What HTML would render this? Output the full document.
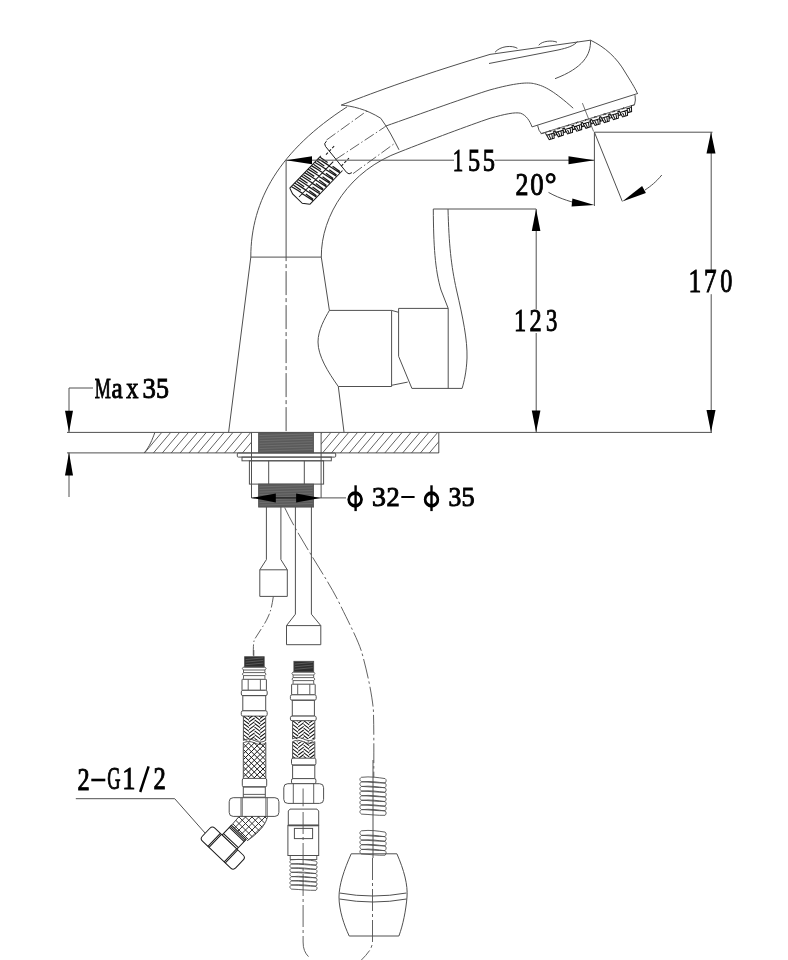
<!DOCTYPE html>
<html><head><meta charset="utf-8"><style>
html,body{margin:0;padding:0;background:#fff;}
svg{display:block;will-change:transform;}
text{font-family:"Liberation Serif",serif;}
</style></head><body>
<svg width="788" height="960" viewBox="0 0 788 960">
<rect width="788" height="960" fill="#fff"/>
<defs><clipPath id="hc"><path d="M154.9,432.4 C152,440 150,446 144.2,452.9 L251.5,452.9 L251.5,432.4 Z M321.1,432.4 L438.8,432.4 L438.8,452.9 L321.1,452.9 Z"/></clipPath></defs>
<path d="M100.0,453 l21,-25 M108.9,453 l21,-25 M117.8,453 l21,-25 M126.7,453 l21,-25 M135.6,453 l21,-25 M144.5,453 l21,-25 M153.4,453 l21,-25 M162.3,453 l21,-25 M171.2,453 l21,-25 M180.1,453 l21,-25 M189.0,453 l21,-25 M197.9,453 l21,-25 M206.8,453 l21,-25 M215.7,453 l21,-25 M224.6,453 l21,-25 M233.5,453 l21,-25 M242.4,453 l21,-25 M251.3,453 l21,-25 M260.2,453 l21,-25 M269.1,453 l21,-25 M278.0,453 l21,-25 M286.9,453 l21,-25 M295.8,453 l21,-25 M304.7,453 l21,-25 M313.6,453 l21,-25 M322.5,453 l21,-25 M331.4,453 l21,-25 M340.3,453 l21,-25 M349.2,453 l21,-25 M358.1,453 l21,-25 M367.0,453 l21,-25 M375.9,453 l21,-25 M384.8,453 l21,-25 M393.7,453 l21,-25 M402.6,453 l21,-25 M411.5,453 l21,-25 M420.4,453 l21,-25 M429.3,453 l21,-25 M438.2,453 l21,-25 M447.1,453 l21,-25 M456.0,453 l21,-25" stroke="#505050" stroke-width="0.9" clip-path="url(#hc)"/>
<line x1="67" y1="432.4" x2="712" y2="432.4" stroke="#505050" stroke-width="1.0" />
<line x1="67" y1="452.9" x2="438.8" y2="452.9" stroke="#505050" stroke-width="1.0" />
<line x1="438.8" y1="432.4" x2="438.8" y2="452.9" stroke="#505050" stroke-width="1.0" />
<path d="M154.9,432.4 C152,440 150,446 144.2,452.9" fill="none" stroke="#505050" stroke-width="1.0" />
<line x1="251.5" y1="432.4" x2="251.5" y2="498" stroke="#505050" stroke-width="1.0" />
<line x1="321.1" y1="432.4" x2="321.1" y2="498" stroke="#505050" stroke-width="1.0" />
<rect x="258.6" y="432.7" width="55" height="20" fill="#5a5a5a" stroke="#505050" stroke-width="0.8"/>
<line x1="259.6" y1="435.5" x2="312.6" y2="433.9" stroke="#7a7a7a" stroke-width="0.6"/>
<line x1="259.6" y1="438.1" x2="312.6" y2="436.5" stroke="#7a7a7a" stroke-width="0.6"/>
<line x1="259.6" y1="440.7" x2="312.6" y2="439.1" stroke="#7a7a7a" stroke-width="0.6"/>
<line x1="259.6" y1="443.3" x2="312.6" y2="441.7" stroke="#7a7a7a" stroke-width="0.6"/>
<line x1="259.6" y1="445.9" x2="312.6" y2="444.3" stroke="#7a7a7a" stroke-width="0.6"/>
<line x1="259.6" y1="448.5" x2="312.6" y2="446.9" stroke="#7a7a7a" stroke-width="0.6"/>
<line x1="259.6" y1="451.1" x2="312.6" y2="449.5" stroke="#7a7a7a" stroke-width="0.6"/>
<rect x="237.3" y="453" width="98.4" height="4.1" rx="1" fill="none" stroke="#505050" stroke-width="1.0" />
<rect x="242" y="457.1" width="89.3" height="3.7" rx="0" fill="none" stroke="#505050" stroke-width="1.0" />
<rect x="249.4" y="460.8" width="74.2" height="23.3" rx="0" fill="none" stroke="#505050" stroke-width="1.0" />
<line x1="268.7" y1="460.8" x2="268.7" y2="484.1" stroke="#505050" stroke-width="1.0" />
<line x1="304.3" y1="460.8" x2="304.3" y2="484.1" stroke="#505050" stroke-width="1.0" />
<rect x="258.6" y="484.1" width="55" height="23" fill="#5a5a5a" stroke="#505050" stroke-width="0.8"/>
<line x1="259.6" y1="486.9" x2="312.6" y2="485.3" stroke="#7a7a7a" stroke-width="0.6"/>
<line x1="259.6" y1="489.5" x2="312.6" y2="487.9" stroke="#7a7a7a" stroke-width="0.6"/>
<line x1="259.6" y1="492.1" x2="312.6" y2="490.5" stroke="#7a7a7a" stroke-width="0.6"/>
<line x1="259.6" y1="494.7" x2="312.6" y2="493.1" stroke="#7a7a7a" stroke-width="0.6"/>
<line x1="259.6" y1="497.3" x2="312.6" y2="495.7" stroke="#7a7a7a" stroke-width="0.6"/>
<line x1="259.6" y1="499.9" x2="312.6" y2="498.3" stroke="#7a7a7a" stroke-width="0.6"/>
<line x1="259.6" y1="502.5" x2="312.6" y2="500.9" stroke="#7a7a7a" stroke-width="0.6"/>
<line x1="259.6" y1="505.1" x2="312.6" y2="503.5" stroke="#7a7a7a" stroke-width="0.6"/>
<line x1="251.5" y1="497.9" x2="346" y2="497.9" stroke="#505050" stroke-width="1.0" />
<line x1="275" y1="497.9" x2="297" y2="497.9" stroke="#222" stroke-width="1.2"/>
<path d="M251.5,497.9 L275.8,493.4 L275.8,502.4 Z" fill="#000" stroke="none"/>
<path d="M320.5,497.9 L296.1,502.4 L296.1,493.4 Z" fill="#000" stroke="none"/>
<path d="M228.6,432.4 L250.8,257.1 C250.8,200 280,150 347,106.9" fill="none" stroke="#505050" stroke-width="1.0" />
<line x1="250.8" y1="257.1" x2="321.3" y2="257.1" stroke="#505050" stroke-width="1.0" />
<path d="M344,432.1 L338.3,386.5 C328,372 318,356 318,342 C318,330 325,318 329.4,310.4 L321.3,257.1 C321,215 350,170 400,151.8 C430,140 470,125 490,118.3 C505,114 515,112 520.5,113.2 C526,115 530,121 532,126.9" fill="none" stroke="#505050" stroke-width="1.0" />
<line x1="286.1" y1="160.2" x2="286.1" y2="257.1" stroke="#505050" stroke-width="1.0" />
<line x1="286.1" y1="257.1" x2="286.1" y2="432" stroke="#505050" stroke-width="1.0" stroke-dasharray="24 3 4 3" stroke-dashoffset="-14"/>
<path d="M329.4,310.4 H391.6 V386.5 H338.3" fill="none" stroke="#505050" stroke-width="1.0" />
<path d="M391.6,310.4 L398.6,312.3 M391.6,385.3 L407.7,382.1" fill="none" stroke="#505050" stroke-width="1.0" />
<path d="M398.6,308.4 H448.2 M398.6,308.4 V356.3 L411.9,388.4 H462.1 M448.2,308.4 V388.4" fill="none" stroke="#505050" stroke-width="1.0" />
<path d="M433.3,209 C433.5,245 435,270 441,290 L448.2,308.4" fill="none" stroke="#505050" stroke-width="1.0" />
<path d="M448,209 C449,245 451,265 456.5,290 C463,318 467.5,340 467,358 C466.5,372 464,382 462.1,388.4" fill="none" stroke="#505050" stroke-width="1.0" />
<path d="M341.2,105.1 C365,96 411,78 490,54.4 L590.5,40.2" fill="none" stroke="#505050" stroke-width="1.0" />
<path d="M489,63.5 L558,50 C567,48 574,46 577.5,41.4" fill="none" stroke="#505050" stroke-width="1.0" />
<path d="M495,52.3 C500,46 512,45 517.4,48.3 M538.7,45.2 C542,41 552,40 557,42.2" fill="none" stroke="#505050" stroke-width="1.0" />
<path d="M590.5,40.2 C605,47 617,58 625,72 C630,80 635,88 637.2,93" fill="none" stroke="#505050" stroke-width="1.0" />
<path d="M590.5,40.2 C591,55 583,68 555,78.7" fill="none" stroke="#505050" stroke-width="1.0" />
<path d="M384.8,126.4 C420,114 470,96 490,89.9 C515,83 528,82 534.7,83.8 C545,86 555,92 573.2,108.2" fill="none" stroke="#505050" stroke-width="1.0" />
<path d="M341.2,105.1 C352,106 366,109 380.8,118.3 C388,128 394,140 399,149.8" fill="none" stroke="#505050" stroke-width="1.0" />
<path d="M532,126.9 L638,93.4" fill="none" stroke="#505050" stroke-width="1.0" />
<path d="M537.6,125.4 Q538.5,131 541.5,133.7 L634.5,104.8 Q636,100 635,95.2" fill="none" stroke="#505050" stroke-width="1.0" />
<g transform="translate(540.7,133.7) rotate(-17.2)" fill="#fff" stroke="#111" stroke-width="1.0"><path d="M9.7,-0.5 L11.4,5.7 L16.6,5.7 L18.3,-0.5 M12.4,1.5 L13.2,5.7 M15.6,1.5 L14.8,5.7 M10.3,1.7 L17.7,1.7"/><path d="M19.3,-0.5 L21.0,5.7 L26.2,5.7 L27.9,-0.5 M22.0,1.5 L22.8,5.7 M25.2,1.5 L24.4,5.7 M19.9,1.7 L27.3,1.7"/><path d="M28.9,-0.5 L30.6,5.7 L35.8,5.7 L37.5,-0.5 M31.6,1.5 L32.4,5.7 M34.8,1.5 L34.0,5.7 M29.5,1.7 L36.9,1.7"/><path d="M38.5,-0.5 L40.2,5.7 L45.4,5.7 L47.1,-0.5 M41.2,1.5 L42.0,5.7 M44.4,1.5 L43.6,5.7 M39.1,1.7 L46.5,1.7"/><path d="M48.1,-0.5 L49.8,5.7 L55.0,5.7 L56.7,-0.5 M50.8,1.5 L51.6,5.7 M54.0,1.5 L53.2,5.7 M48.7,1.7 L56.1,1.7"/><path d="M57.7,-0.5 L59.4,5.7 L64.6,5.7 L66.3,-0.5 M60.4,1.5 L61.2,5.7 M63.6,1.5 L62.8,5.7 M58.3,1.7 L65.7,1.7"/><path d="M67.3,-0.5 L69.0,5.7 L74.2,5.7 L75.9,-0.5 M70.0,1.5 L70.8,5.7 M73.2,1.5 L72.4,5.7 M67.9,1.7 L75.3,1.7"/><path d="M76.9,-0.5 L78.6,5.7 L83.8,5.7 L85.5,-0.5 M79.6,1.5 L80.4,5.7 M82.8,1.5 L82.0,5.7 M77.5,1.7 L84.9,1.7"/><path d="M86.5,-0.5 L88.2,5.7 L93.4,5.7 L95.1,-0.5 M89.2,1.5 L90.0,5.7 M92.4,1.5 L91.6,5.7 M87.1,1.7 L94.5,1.7"/><path d="M4.7,1.0 L6.4,8.2 L11.6,8.2 L13.3,1.0 M7.4,3.0 L8.2,8.2 M10.6,3.0 L9.8,8.2 M5.3,3.2 L12.7,3.2"/><path d="M14.3,1.0 L16.0,8.2 L21.2,8.2 L22.9,1.0 M17.0,3.0 L17.8,8.2 M20.2,3.0 L19.4,8.2 M14.9,3.2 L22.3,3.2"/><path d="M23.9,1.0 L25.6,8.2 L30.8,8.2 L32.5,1.0 M26.6,3.0 L27.4,8.2 M29.8,3.0 L29.0,8.2 M24.5,3.2 L31.9,3.2"/><path d="M33.5,1.0 L35.2,8.2 L40.4,8.2 L42.1,1.0 M36.2,3.0 L37.0,8.2 M39.4,3.0 L38.6,8.2 M34.1,3.2 L41.5,3.2"/><path d="M43.1,1.0 L44.8,8.2 L50.0,8.2 L51.7,1.0 M45.8,3.0 L46.6,8.2 M49.0,3.0 L48.2,8.2 M43.7,3.2 L51.1,3.2"/><path d="M52.7,1.0 L54.4,8.2 L59.6,8.2 L61.3,1.0 M55.4,3.0 L56.2,8.2 M58.6,3.0 L57.8,8.2 M53.3,3.2 L60.7,3.2"/><path d="M62.3,1.0 L64.0,8.2 L69.2,8.2 L70.9,1.0 M65.0,3.0 L65.8,8.2 M68.2,3.0 L67.4,8.2 M62.9,3.2 L70.3,3.2"/><path d="M71.9,1.0 L73.6,8.2 L78.8,8.2 L80.5,1.0 M74.6,3.0 L75.4,8.2 M77.8,3.0 L77.0,8.2 M72.5,3.2 L79.9,3.2"/><path d="M81.5,1.0 L83.2,8.2 L88.4,8.2 L90.1,1.0 M84.2,3.0 L85.0,8.2 M87.4,3.0 L86.6,8.2 M82.1,3.2 L89.5,3.2"/></g>
<path d="M540.7,133.7 L634.5,104.8" fill="none" stroke="#505050" stroke-width="0.9" />
<path d="M582.4,103.1 L593.6,131.5" fill="none" stroke="#505050" stroke-width="0.8" />
<path d="M326.5,140 L367.1,110.8" fill="none" stroke="#505050" stroke-width="0.9" stroke-dasharray="11 2.5 1.5 2.5"/>
<path d="M335.4,159.6 L384.8,127" fill="none" stroke="#505050" stroke-width="0.9" stroke-dasharray="11 2.5 1.5 2.5"/>
<path d="M353.1,173.6 L395,143.1" fill="none" stroke="#505050" stroke-width="0.9" stroke-dasharray="11 2.5 1.5 2.5"/>
<g transform="translate(337,159) rotate(-39)" fill="none" stroke="#1a1a1a" stroke-width="0.9"><path d="M3,-20.5 Q-1,-20.5 -1,-17 L-1,16.5 Q-1,20 3,20"/></g><g transform="translate(299,197) rotate(-46) scale(1.12)" fill="none" stroke="#1a1a1a" stroke-width="0.9"><path d="M2.0,-11.5 C3.0,-8 3.5,-4 4.5,0 M4.2,-11 L5.5,-3 M4.0,0 C5.0,4 5.5,8 6.5,11.5 M6.2,2.5 L7.3,10.5 M6.3,-11.5 C7.3,-8 7.8,-4 8.8,0 M8.5,-11 L9.8,-3 M8.3,0 C9.3,4 9.8,8 10.8,11.5 M10.5,2.5 L11.6,10.5 M10.6,-11.5 C11.6,-8 12.1,-4 13.1,0 M12.8,-11 L14.1,-3 M12.6,0 C13.6,4 14.1,8 15.1,11.5 M14.8,2.5 L15.9,10.5 M14.9,-11.5 C15.9,-8 16.4,-4 17.4,0 M17.1,-11 L18.4,-3 M16.9,0 C17.9,4 18.4,8 19.4,11.5 M19.1,2.5 L20.2,10.5 M19.2,-11.5 C20.2,-8 20.7,-4 21.7,0 M21.4,-11 L22.7,-3 M21.2,0 C22.2,4 22.7,8 23.7,11.5 M23.4,2.5 L24.5,10.5 M23.5,-11.5 C24.5,-8 25.0,-4 26.0,0 M25.7,-11 L27.0,-3 M25.5,0 C26.5,4 27.0,8 28.0,11.5 M27.7,2.5 L28.8,10.5 M27.8,-11.5 C28.8,-8 29.3,-4 30.3,0 M30.0,-11 L31.3,-3 M29.8,0 C30.8,4 31.3,8 32.3,11.5 M32.0,2.5 L33.1,10.5 M32.1,-11.5 C33.1,-8 33.6,-4 34.6,0 M34.3,-11 L35.6,-3 M34.1,0 C35.1,4 35.6,8 36.6,11.5 M36.3,2.5 L37.4,10.5 M36.4,-11.5 C37.4,-8 37.9,-4 38.9,0 M38.6,-11 L39.9,-3 M38.4,0 C39.4,4 39.9,8 40.9,11.5 M40.6,2.5 L41.7,10.5" stroke-width="1.1"/><path d="M0,-11.5 L40,-11.5 M2,11.5 L44,11.5 M0,-11.5 L-2,-6 L-2,6 L2,11.5 M0,0 L44,0" stroke-width="0.9"/><path d="M44,-9 L56,-9 M46,8 L56,8" stroke-width="0.9" stroke-dasharray="2.5 1.5"/></g>
<line x1="286.1" y1="160.2" x2="454" y2="160.2" stroke="#505050" stroke-width="1.0" />
<line x1="494.5" y1="160.2" x2="594.4" y2="160.2" stroke="#505050" stroke-width="1.0" />
<path d="M286.1,160.2 L312.0,156.2 L312.0,164.2 Z" fill="#000" stroke="none"/>
<path d="M594.4,160.2 L568.5,164.2 L568.5,156.2 Z" fill="#000" stroke="none"/>
<text transform="translate(452.63,170.93) scale(0.646,1)" font-family="Liberation Serif" font-size="32.40" fill="#000" stroke="#000" stroke-width="0.95">1</text>
<text transform="translate(467.97,170.93) scale(0.749,1)" font-family="Liberation Serif" font-size="32.40" fill="#000" stroke="#000" stroke-width="0.95">5</text>
<text transform="translate(482.75,170.93) scale(0.756,1)" font-family="Liberation Serif" font-size="32.40" fill="#000" stroke="#000" stroke-width="0.95">5</text>
<line x1="594.4" y1="132.2" x2="594.4" y2="206" stroke="#505050" stroke-width="1.0" />
<line x1="594.4" y1="132.2" x2="622.3" y2="201.4" stroke="#505050" stroke-width="1.0" />
<path d="M548.5,192.4 C560,199 575,203 580,204" fill="none" stroke="#505050" stroke-width="1.0" />
<path d="M594.4,205.0 L571.6,206.5 L572.4,198.5 Z" fill="#000" stroke="none"/>
<path d="M661.8,175 C656,182 651,186 645,190" fill="none" stroke="#505050" stroke-width="1.0" />
<path d="M622.3,201.4 L642.1,186.0 L645.9,193.0 Z" fill="#000" stroke="none"/>
<text transform="translate(515.54,194.83) scale(0.799,1)" font-family="Liberation Serif" font-size="32.40" fill="#000" stroke="#000" stroke-width="0.95">2</text>
<text transform="translate(530.26,194.83) scale(0.828,1)" font-family="Liberation Serif" font-size="32.40" fill="#000" stroke="#000" stroke-width="0.95">0</text>
<text transform="translate(544.65,194.83) scale(0.915,1)" font-family="Liberation Serif" font-size="32.40" fill="#000" stroke="#000" stroke-width="0.95">°</text>
<line x1="594.4" y1="132.2" x2="712.5" y2="132.2" stroke="#505050" stroke-width="1.0" />
<line x1="433.3" y1="209" x2="536.1" y2="209" stroke="#505050" stroke-width="1.0" />
<line x1="536.2" y1="209" x2="536.2" y2="309.5" stroke="#505050" stroke-width="1.0" />
<line x1="536.2" y1="333" x2="536.2" y2="432.3" stroke="#505050" stroke-width="1.0" />
<path d="M536.1,209.0 L540.4,231.0 L531.8,231.0 Z" fill="#000" stroke="none"/>
<path d="M536.1,432.3 L531.8,410.5 L540.4,410.5 Z" fill="#000" stroke="none"/>
<text transform="translate(514.03,331.32) scale(0.752,1)" font-family="Liberation Serif" font-size="32.40" fill="#000" stroke="#000" stroke-width="0.95">1</text>
<text transform="translate(529.60,331.32) scale(0.752,1)" font-family="Liberation Serif" font-size="32.40" fill="#000" stroke="#000" stroke-width="0.95">2</text>
<text transform="translate(546.09,331.32) scale(0.700,1)" font-family="Liberation Serif" font-size="32.40" fill="#000" stroke="#000" stroke-width="0.95">3</text>
<line x1="711.2" y1="132.2" x2="711.2" y2="270.2" stroke="#505050" stroke-width="1.0" />
<line x1="711.2" y1="294.2" x2="711.2" y2="432.2" stroke="#505050" stroke-width="1.0" />
<path d="M711.0,132.2 L715.5,153.4 L706.5,153.4 Z" fill="#000" stroke="none"/>
<path d="M711.0,432.2 L706.5,410.0 L715.5,410.0 Z" fill="#000" stroke="none"/>
<text transform="translate(688.53,292.42) scale(0.773,1)" font-family="Liberation Serif" font-size="33.00" fill="#000" stroke="#000" stroke-width="0.95">1</text>
<text transform="translate(704.02,292.42) scale(0.761,1)" font-family="Liberation Serif" font-size="33.00" fill="#000" stroke="#000" stroke-width="0.95">7</text>
<text transform="translate(720.35,292.42) scale(0.734,1)" font-family="Liberation Serif" font-size="33.00" fill="#000" stroke="#000" stroke-width="0.95">0</text>
<path d="M93,388 H69 V432.3" fill="none" stroke="#505050" stroke-width="1.0" />
<path d="M69.0,432.3 L65.0,410.8 L73.0,410.8 Z" fill="#000" stroke="none"/>
<line x1="69" y1="452.6" x2="69" y2="497" stroke="#505050" stroke-width="1.0" />
<path d="M69.0,452.6 L73.0,475.5 L65.0,475.5 Z" fill="#000" stroke="none"/>
<text transform="translate(94.65,397.52) scale(0.599,1)" font-family="Liberation Serif" font-size="30.27" fill="#000" stroke="#000" stroke-width="0.95">M</text>
<text transform="translate(111.39,397.52) scale(0.834,1)" font-family="Liberation Serif" font-size="30.27" fill="#000" stroke="#000" stroke-width="0.95">a</text>
<text transform="translate(126.36,397.52) scale(0.805,1)" font-family="Liberation Serif" font-size="30.27" fill="#000" stroke="#000" stroke-width="0.95">x</text>
<text transform="translate(142.39,397.52) scale(0.886,1)" font-family="Liberation Serif" font-size="30.27" fill="#000" stroke="#000" stroke-width="0.95">3</text>
<text transform="translate(155.97,397.52) scale(0.859,1)" font-family="Liberation Serif" font-size="30.27" fill="#000" stroke="#000" stroke-width="0.95">5</text>
<ellipse cx="355.1" cy="499.5" rx="6.6" ry="7.1" fill="none" stroke="#000" stroke-width="2.2"/>
<ellipse cx="355.1" cy="499.5" rx="6.4" ry="5.8" fill="none" stroke="#000" stroke-width="2.4" transform="translate(355.1,0) scale(0.97,1) translate(-355.1,0)"/>
<line x1="355.6" y1="485.3" x2="355.6" y2="511.1" stroke="#000" stroke-width="2.4"/>
<text transform="translate(372.04,506.12) scale(1.038,1)" font-family="Liberation Serif" font-size="26.78" fill="#000" stroke="#000" stroke-width="0.95">3</text>
<text transform="translate(386.41,506.12) scale(0.985,1)" font-family="Liberation Serif" font-size="26.78" fill="#000" stroke="#000" stroke-width="0.95">2</text>
<rect x="401.3" y="496" width="13.3" height="2" fill="#000"/>
<ellipse cx="431.5" cy="499.5" rx="6.6" ry="7.1" fill="none" stroke="#000" stroke-width="2.2"/>
<ellipse cx="431.5" cy="499.5" rx="6.4" ry="5.8" fill="none" stroke="#000" stroke-width="2.4" transform="translate(431.5,0) scale(0.97,1) translate(-431.5,0)"/>
<line x1="431.5" y1="485.3" x2="431.5" y2="511.1" stroke="#000" stroke-width="2.4"/>
<text transform="translate(448.55,506.12) scale(0.956,1)" font-family="Liberation Serif" font-size="26.78" fill="#000" stroke="#000" stroke-width="0.95">3</text>
<text transform="translate(461.55,506.12) scale(0.980,1)" font-family="Liberation Serif" font-size="26.78" fill="#000" stroke="#000" stroke-width="0.95">5</text>
<path d="M75.8,798.7 H174.7 L205.2,833.2" fill="none" stroke="#505050" stroke-width="1.0" />
<text transform="translate(77.40,789.52) scale(0.789,1)" font-family="Liberation Serif" font-size="30.88" fill="#000" stroke="#000" stroke-width="0.95">2</text>
<rect x="91.3" y="778.7" width="14" height="2.6" fill="#000"/>
<text transform="translate(107.32,789.42) scale(0.590,1)" font-family="Liberation Serif" font-size="31.18" fill="#000" stroke="#000" stroke-width="0.95">G</text>
<text transform="translate(122.16,789.42) scale(0.845,1)" font-family="Liberation Serif" font-size="31.18" fill="#000" stroke="#000" stroke-width="0.95">1</text>
<text transform="translate(153.59,789.42) scale(0.790,1)" font-family="Liberation Serif" font-size="31.18" fill="#000" stroke="#000" stroke-width="0.95">2</text>
<line x1="148.6" y1="766.3" x2="140.2" y2="792" stroke="#000" stroke-width="2.5"/>
<path d="M266.4,507 V559.6 L259.8,569.8 V596.4 H287.3 V569.8 L280.9,559.6 V507 M259.8,569.8 H287.3" fill="none" stroke="#505050" stroke-width="1.0" />
<path d="M295.4,507 V614.2 L286.5,625.6 V644.7 H320.8 V625.6 L311.4,614.2 V507 M286.5,625.6 H320.8" fill="none" stroke="#505050" stroke-width="1.0" />
<path d="M273.3,596.7 C272,605 271,611 268,617 C265,624 259,632 254.2,640 C253.3,644 253.3,648 253.3,656" fill="none" stroke="#505050" stroke-width="0.9" stroke-dasharray="11 2.5 1.5 2.5"/>
<path d="M284.7,507.6 C300,540 325,575 337.8,600 C350,625 358,640 361.9,652.7 C368,675 372,695 373.4,710 C374,730 373.8,750 373.8,777.6" fill="none" stroke="#505050" stroke-width="0.9" stroke-dasharray="20 3 2.5 3"/>
<line x1="253.8" y1="650" x2="253.8" y2="656.4" stroke="#505050" stroke-width="0.9" />
<rect x="244.6" y="656.7" width="19.6" height="10.4" fill="#2e2e2e" stroke="#505050" stroke-width="0.8"/>
<line x1="245.6" y1="659.5" x2="263.2" y2="657.9" stroke="#777" stroke-width="0.6"/>
<line x1="245.6" y1="662.1" x2="263.2" y2="660.5" stroke="#777" stroke-width="0.6"/>
<line x1="245.6" y1="664.7" x2="263.2" y2="663.1" stroke="#777" stroke-width="0.6"/>
<path d="M243.5,667 H264.9 Q267.2,668.5 264.9,670 H243.5 Q241.2,668.5 243.5,667 Z" fill="none" stroke="#505050" stroke-width="0.9" />
<path d="M243.5,672.6 H264.9 Q267.2,674.1 264.9,675.6 H243.5 Q241.2,674.1 243.5,672.6 Z" fill="none" stroke="#505050" stroke-width="0.9" />
<path d="M243.5,670 V672.6 M264.9,670 V672.6 M243.5,675.6 V678.8 M264.9,675.6 V678.8" fill="none" stroke="#505050" stroke-width="0.9" />
<rect x="242" y="679.3" width="24.4" height="11" rx="0.5" fill="#fff" stroke="#505050" stroke-width="1.0"/>
<line x1="248.2" y1="679.3" x2="248.2" y2="690.3" stroke="#505050" stroke-width="0.9" />
<line x1="260.4" y1="679.3" x2="260.4" y2="690.3" stroke="#505050" stroke-width="0.9" />
<rect x="241.3" y="690.3" width="25.9" height="5.3" rx="1.6" fill="#fff" stroke="#505050" stroke-width="1.0"/>
<rect x="242.8" y="695.6" width="22.9" height="15.2" rx="0" fill="none" stroke="#505050" stroke-width="1.0" />
<rect x="241.3" y="710.8" width="25.9" height="5.3" rx="1.6" fill="#fff" stroke="#505050" stroke-width="1.0"/>
<clipPath id="cl1"><rect x="243.4" y="716.1" width="22.3" height="24.4"/></clipPath>
<path d="M243.4,708.7 l5.6,4.2 M243.4,712.4 l5.6,4.2 M243.4,716.1 l5.6,4.2 M243.4,719.8 l5.6,4.2 M243.4,723.5 l5.6,4.2 M243.4,727.2 l5.6,4.2 M243.4,730.9 l5.6,4.2 M243.4,734.6 l5.6,4.2 M243.4,738.3 l5.6,4.2 M243.4,742.0 l5.6,4.2 M249.0,714.8 l5.6,-4.2 M249.0,718.5 l5.6,-4.2 M249.0,722.2 l5.6,-4.2 M249.0,725.9 l5.6,-4.2 M249.0,729.6 l5.6,-4.2 M249.0,733.3 l5.6,-4.2 M249.0,737.0 l5.6,-4.2 M249.0,740.7 l5.6,-4.2 M249.0,744.4 l5.6,-4.2 M249.0,748.1 l5.6,-4.2 M254.6,708.7 l5.6,4.2 M254.6,712.4 l5.6,4.2 M254.6,716.1 l5.6,4.2 M254.6,719.8 l5.6,4.2 M254.6,723.5 l5.6,4.2 M254.6,727.2 l5.6,4.2 M254.6,730.9 l5.6,4.2 M254.6,734.6 l5.6,4.2 M254.6,738.3 l5.6,4.2 M254.6,742.0 l5.6,4.2 M260.1,714.8 l5.6,-4.2 M260.1,718.5 l5.6,-4.2 M260.1,722.2 l5.6,-4.2 M260.1,725.9 l5.6,-4.2 M260.1,729.6 l5.6,-4.2 M260.1,733.3 l5.6,-4.2 M260.1,737.0 l5.6,-4.2 M260.1,740.7 l5.6,-4.2 M260.1,744.4 l5.6,-4.2 M260.1,748.1 l5.6,-4.2" fill="none" stroke="#111" stroke-width="1.05" clip-path="url(#cl1)"/>
<path d="M243.4,716.1 V740.5 M265.7,716.1 V740.5" fill="none" stroke="#505050" stroke-width="1.0" />
<path d="M243.4,740.5 C247,738.5 250,738.5 254.5,740.5 C259,742.5 262,742.5 265.7,740.5" fill="none" stroke="#505050" stroke-width="1.0" />
<clipPath id="cl2"><rect x="243.3" y="742.3" width="22.5" height="36.1"/></clipPath>
<path d="M207.2,742.3 l36.1,36.1 M207.2,778.4 l36.1,-36.1 M213.0,742.3 l36.1,36.1 M213.0,778.4 l36.1,-36.1 M218.8,742.3 l36.1,36.1 M218.8,778.4 l36.1,-36.1 M224.6,742.3 l36.1,36.1 M224.6,778.4 l36.1,-36.1 M230.4,742.3 l36.1,36.1 M230.4,778.4 l36.1,-36.1 M236.2,742.3 l36.1,36.1 M236.2,778.4 l36.1,-36.1 M242.0,742.3 l36.1,36.1 M242.0,778.4 l36.1,-36.1 M247.8,742.3 l36.1,36.1 M247.8,778.4 l36.1,-36.1 M253.6,742.3 l36.1,36.1 M253.6,778.4 l36.1,-36.1 M259.4,742.3 l36.1,36.1 M259.4,778.4 l36.1,-36.1 M265.2,742.3 l36.1,36.1 M265.2,778.4 l36.1,-36.1 M271.0,742.3 l36.1,36.1 M271.0,778.4 l36.1,-36.1 M276.8,742.3 l36.1,36.1 M276.8,778.4 l36.1,-36.1 M282.6,742.3 l36.1,36.1 M282.6,778.4 l36.1,-36.1 M288.4,742.3 l36.1,36.1 M288.4,778.4 l36.1,-36.1 M294.2,742.3 l36.1,36.1 M294.2,778.4 l36.1,-36.1 M300.0,742.3 l36.1,36.1 M300.0,778.4 l36.1,-36.1" fill="none" stroke="#111" stroke-width="0.95" clip-path="url(#cl2)"/>
<path d="M243.3,742.3 V778.4 M265.8,742.3 V778.4" fill="none" stroke="#505050" stroke-width="1.0" />
<path d="M243.3,743 C247,741 250,741 254.5,743 C259,745 262,745 265.8,743" fill="none" stroke="#505050" stroke-width="1.0" />
<rect x="242.3" y="778.4" width="24.4" height="8.5" rx="1.6" fill="#fff" stroke="#505050" stroke-width="1.0"/>
<rect x="243.3" y="786.9" width="22" height="10.3" rx="0" fill="none" stroke="#505050" stroke-width="1.0" />
<line x1="243.3" y1="794.4" x2="265.3" y2="794.4" stroke="#505050" stroke-width="0.9" />
<rect x="229.2" y="797.7" width="49.7" height="18.7" rx="4" fill="#fff" stroke="#505050" stroke-width="1.0"/>
<line x1="241" y1="797.7" x2="241" y2="816.4000000000001" stroke="#505050" stroke-width="0.9" />
<line x1="267.2" y1="797.7" x2="267.2" y2="816.4000000000001" stroke="#505050" stroke-width="0.9" />
<line x1="242.3" y1="797.7" x2="242.3" y2="816.4" stroke="#505050" stroke-width="0.8" />
<line x1="265.8" y1="797.7" x2="265.8" y2="816.4" stroke="#505050" stroke-width="0.8" />
<clipPath id="cl3"><path d="M230,827.1 L239.1,816.4 L267.7,816.4 C266,822 263,830 247.1,840.8 Z"/></clipPath>
<path d="M180,810 l40,40 M180,850 l40,-40 M186.5,810 l40,40 M186.5,850 l40,-40 M193.0,810 l40,40 M193.0,850 l40,-40 M199.5,810 l40,40 M199.5,850 l40,-40 M206.0,810 l40,40 M206.0,850 l40,-40 M212.5,810 l40,40 M212.5,850 l40,-40 M219.0,810 l40,40 M219.0,850 l40,-40 M225.5,810 l40,40 M225.5,850 l40,-40 M232.0,810 l40,40 M232.0,850 l40,-40 M238.5,810 l40,40 M238.5,850 l40,-40 M245.0,810 l40,40 M245.0,850 l40,-40 M251.5,810 l40,40 M251.5,850 l40,-40 M258.0,810 l40,40 M258.0,850 l40,-40 M264.5,810 l40,40 M264.5,850 l40,-40 M271.0,810 l40,40 M271.0,850 l40,-40 M277.5,810 l40,40 M277.5,850 l40,-40" fill="none" stroke="#222" stroke-width="0.9" clip-path="url(#cl3)"/>
<path d="M230,827.1 L239.1,816.4 M267.7,816.4 C266,822 263,830 247.1,840.8" fill="none" stroke="#505050" stroke-width="1.0" />
<g transform="translate(222.8,848.1) rotate(-46.5)" fill="#fff" stroke="#1a1a1a" stroke-width="1.0"><rect x="9" y="-9.5" width="13.5" height="20.5"/><line x1="11" y1="-9.5" x2="11" y2="11"/><line x1="19.5" y1="-9.5" x2="19.5" y2="11"/><line x1="21" y1="-9.5" x2="21" y2="11"/><rect x="-9" y="-23" width="18" height="46" rx="3.5"/><line x1="-9" y1="-12" x2="9" y2="-12"/><line x1="-9" y1="-10.5" x2="9" y2="-10.5"/><line x1="-9" y1="10.5" x2="9" y2="10.5"/><line x1="-9" y1="12" x2="9" y2="12"/></g>
<rect x="293.9" y="661.3" width="19.8" height="10.7" fill="#2e2e2e" stroke="#505050" stroke-width="0.8"/>
<line x1="294.9" y1="664.1" x2="312.7" y2="662.5" stroke="#777" stroke-width="0.6"/>
<line x1="294.9" y1="666.7" x2="312.7" y2="665.1" stroke="#777" stroke-width="0.6"/>
<line x1="294.9" y1="669.3" x2="312.7" y2="667.7" stroke="#777" stroke-width="0.6"/>
<path d="M293.1,672 H313.70000000000005 Q316.00000000000006,673.5 313.70000000000005,675 H293.1 Q290.8,673.5 293.1,672 Z" fill="none" stroke="#505050" stroke-width="0.9" />
<path d="M293.1,677.6 H313.70000000000005 Q316.00000000000006,679.1 313.70000000000005,680.6 H293.1 Q290.8,679.1 293.1,677.6 Z" fill="none" stroke="#505050" stroke-width="0.9" />
<path d="M293.1,675 V677.6 M313.70000000000005,675 V677.6 M293.1,680.6 V683.8 M313.70000000000005,680.6 V683.8" fill="none" stroke="#505050" stroke-width="0.9" />
<rect x="291.6" y="684.2" width="23.6" height="10.6" rx="0.5" fill="#fff" stroke="#505050" stroke-width="1.0"/>
<line x1="297.7" y1="684.2" x2="297.7" y2="694.8000000000001" stroke="#505050" stroke-width="0.9" />
<line x1="309.8" y1="684.2" x2="309.8" y2="694.8000000000001" stroke="#505050" stroke-width="0.9" />
<rect x="290.4" y="694.8" width="25.8" height="5.4" rx="1.6" fill="#fff" stroke="#505050" stroke-width="1.0"/>
<rect x="292.3" y="700.2" width="22.1" height="15.9" rx="0" fill="none" stroke="#505050" stroke-width="1.0" />
<rect x="290.4" y="716.1" width="25.8" height="4.6" rx="1.6" fill="#fff" stroke="#505050" stroke-width="1.0"/>
<clipPath id="cl4"><rect x="292.6" y="720.7" width="22.2" height="18.3"/></clipPath>
<path d="M292.6,713.3 l5.5,4.2 M292.6,717.0 l5.5,4.2 M292.6,720.7 l5.5,4.2 M292.6,724.4 l5.5,4.2 M292.6,728.1 l5.5,4.2 M292.6,731.8 l5.5,4.2 M292.6,735.5 l5.5,4.2 M292.6,739.2 l5.5,4.2 M298.2,719.4 l5.5,-4.2 M298.2,723.1 l5.5,-4.2 M298.2,726.8 l5.5,-4.2 M298.2,730.5 l5.5,-4.2 M298.2,734.2 l5.5,-4.2 M298.2,737.9 l5.5,-4.2 M298.2,741.6 l5.5,-4.2 M298.2,745.3 l5.5,-4.2 M303.7,713.3 l5.5,4.2 M303.7,717.0 l5.5,4.2 M303.7,720.7 l5.5,4.2 M303.7,724.4 l5.5,4.2 M303.7,728.1 l5.5,4.2 M303.7,731.8 l5.5,4.2 M303.7,735.5 l5.5,4.2 M303.7,739.2 l5.5,4.2 M309.2,719.4 l5.5,-4.2 M309.2,723.1 l5.5,-4.2 M309.2,726.8 l5.5,-4.2 M309.2,730.5 l5.5,-4.2 M309.2,734.2 l5.5,-4.2 M309.2,737.9 l5.5,-4.2 M309.2,741.6 l5.5,-4.2 M309.2,745.3 l5.5,-4.2" fill="none" stroke="#111" stroke-width="1.05" clip-path="url(#cl4)"/>
<path d="M292.6,720.7 V739.0 M314.8,720.7 V739.0" fill="none" stroke="#505050" stroke-width="1.0" />
<path d="M292.6,739 C296,737 299,737 303.7,739 C308,741 311,741 314.8,739" fill="none" stroke="#505050" stroke-width="1.0" />
<clipPath id="cl5"><rect x="292.6" y="741.5" width="22.2" height="16.7"/></clipPath>
<path d="M292.6,734.1 l5.5,4.2 M292.6,737.8 l5.5,4.2 M292.6,741.5 l5.5,4.2 M292.6,745.2 l5.5,4.2 M292.6,748.9 l5.5,4.2 M292.6,752.6 l5.5,4.2 M292.6,756.3 l5.5,4.2 M292.6,760.0 l5.5,4.2 M298.2,740.2 l5.5,-4.2 M298.2,743.9 l5.5,-4.2 M298.2,747.6 l5.5,-4.2 M298.2,751.3 l5.5,-4.2 M298.2,755.0 l5.5,-4.2 M298.2,758.7 l5.5,-4.2 M298.2,762.4 l5.5,-4.2 M298.2,766.1 l5.5,-4.2 M303.7,734.1 l5.5,4.2 M303.7,737.8 l5.5,4.2 M303.7,741.5 l5.5,4.2 M303.7,745.2 l5.5,4.2 M303.7,748.9 l5.5,4.2 M303.7,752.6 l5.5,4.2 M303.7,756.3 l5.5,4.2 M303.7,760.0 l5.5,4.2 M309.2,740.2 l5.5,-4.2 M309.2,743.9 l5.5,-4.2 M309.2,747.6 l5.5,-4.2 M309.2,751.3 l5.5,-4.2 M309.2,755.0 l5.5,-4.2 M309.2,758.7 l5.5,-4.2 M309.2,762.4 l5.5,-4.2 M309.2,766.1 l5.5,-4.2" fill="none" stroke="#111" stroke-width="1.05" clip-path="url(#cl5)"/>
<path d="M292.6,741.5 V758.2 M314.8,741.5 V758.2" fill="none" stroke="#505050" stroke-width="1.0" />
<path d="M292.6,741.8 C296,739.8 299,739.8 303.7,741.8 C308,743.8 311,743.8 314.8,741.8" fill="none" stroke="#505050" stroke-width="1.0" />
<rect x="291.5" y="758.2" width="24.4" height="6.9" rx="1.6" fill="#fff" stroke="#505050" stroke-width="1.0"/>
<rect x="292.6" y="765.1" width="22.2" height="13.5" rx="0" fill="none" stroke="#505050" stroke-width="1.0" />
<rect x="291.5" y="778.6" width="24.4" height="5.1" rx="1.6" fill="#fff" stroke="#505050" stroke-width="1.0"/>
<rect x="283.8" y="783.7" width="39.8" height="19.7" rx="4" fill="#fff" stroke="#505050" stroke-width="1.0"/>
<line x1="293.3" y1="783.7" x2="293.3" y2="803.4000000000001" stroke="#505050" stroke-width="0.9" />
<line x1="313.7" y1="783.7" x2="313.7" y2="803.4000000000001" stroke="#505050" stroke-width="0.9" />
<line x1="303.1" y1="788.5" x2="303.1" y2="806.3" stroke="#505050" stroke-width="0.9" />
<path d="M303.1,812 V942 C303,950 306,955 310.6,958.4" fill="none" stroke="#505050" stroke-width="0.9" stroke-dasharray="22 3 3 3"/>
<path d="M288.3,825.4 V811 L290,809.1 H317 L318.7,811 V825.4" fill="none" stroke="#505050" stroke-width="1.0" />
<line x1="288.3" y1="825.4" x2="318.7" y2="825.4" stroke="#505050" stroke-width="1.8" />
<rect x="287.9" y="825.4" width="30.8" height="30.1" rx="0" fill="none" stroke="#505050" stroke-width="1.0" />
<rect x="294.4" y="828.4" width="18.2" height="10.2" rx="0" fill="none" stroke="#505050" stroke-width="1.0" />
<rect x="290.2" y="855.5" width="26.6" height="4" rx="0" fill="none" stroke="#505050" stroke-width="0.9" />
<path d="M291.4,859.8 C300.8,858.7 308.8,860.1 316.0,861.1 C317.4,862.1 317.4,863.5 316.0,865.0 M291.4,859.8 C289.4,861.0 289.4,862.5 291.4,863.8 C300.8,864.2 308.8,865.3 316.0,865.0 M291.4,864.0 C300.8,862.9 308.8,864.3 316.0,865.3 C317.4,866.3 317.4,867.7 316.0,869.2 M291.4,864.0 C289.4,865.2 289.4,866.7 291.4,868.0 C300.8,868.4 308.8,869.5 316.0,869.2 M291.4,868.2 C300.8,867.1 308.8,868.5 316.0,869.5 C317.4,870.5 317.4,871.9 316.0,873.4 M291.4,868.2 C289.4,869.4 289.4,870.9 291.4,872.2 C300.8,872.6 308.8,873.7 316.0,873.4 M291.4,872.4 C300.8,871.3 308.8,872.7 316.0,873.7 C317.4,874.7 317.4,876.2 316.0,877.6 M291.4,872.4 C289.4,873.6 289.4,875.1 291.4,876.5 C300.8,876.9 308.8,878.0 316.0,877.6 M291.4,876.7 C300.8,875.6 308.8,877.0 316.0,878.0 C317.4,879.0 317.4,880.4 316.0,881.9 M291.4,876.7 C289.4,877.9 289.4,879.3 291.4,880.7 C300.8,881.1 308.8,882.2 316.0,881.9 M291.4,880.9 C300.8,879.8 308.8,881.2 316.0,882.2 C317.4,883.2 317.4,884.6 316.0,886.1 M291.4,880.9 C289.4,882.1 289.4,883.5 291.4,884.9 C300.8,885.3 308.8,886.4 316.0,886.1 M291.4,885.1 C300.8,884.0 308.8,885.4 316.0,886.4 C317.4,887.4 317.4,888.8 316.0,890.3 M291.4,885.1 C289.4,886.3 289.4,887.7 291.4,889.1 C300.8,889.5 308.8,890.6 316.0,890.3" fill="none" stroke="#505050" stroke-width="0.9" />
<line x1="373" y1="760" x2="373" y2="858" stroke="#505050" stroke-width="1.0" />
<path d="M361.4,777.3 C370.5,776.2 378.2,777.6 385.1,778.6 C386.5,779.6 386.5,781.4 385.1,782.9 M361.4,777.3 C359.4,778.5 359.4,780.2 361.4,781.7 C370.5,782.1 378.2,783.2 385.1,782.9 M361.4,781.9 C370.5,780.8 378.2,782.2 385.1,783.2 C386.5,784.2 386.5,786.0 385.1,787.5 M361.4,781.9 C359.4,783.1 359.4,784.9 361.4,786.4 C370.5,786.8 378.2,787.9 385.1,787.5 M361.4,786.5 C370.5,785.5 378.2,786.9 385.1,787.9 C386.5,788.9 386.5,790.7 385.1,792.2 M361.4,786.5 C359.4,787.8 359.4,789.5 361.4,791.0 C370.5,791.4 378.2,792.5 385.1,792.2 M361.4,791.2 C370.5,790.1 378.2,791.5 385.1,792.5 C386.5,793.5 386.5,795.3 385.1,796.8 M361.4,791.2 C359.4,792.4 359.4,794.1 361.4,795.6 C370.5,796.0 378.2,797.1 385.1,796.8 M361.4,795.8 C370.5,794.7 378.2,796.1 385.1,797.1 C386.5,798.1 386.5,799.9 385.1,801.4 M361.4,795.8 C359.4,797.0 359.4,798.7 361.4,800.2 C370.5,800.6 378.2,801.7 385.1,801.4 M361.4,800.4 C370.5,799.3 378.2,800.7 385.1,801.7 C386.5,802.7 386.5,804.5 385.1,806.0 M361.4,800.4 C359.4,801.6 359.4,803.4 361.4,804.9 C370.5,805.2 378.2,806.4 385.1,806.0 M361.4,805.0 C370.5,804.0 378.2,805.4 385.1,806.4 C386.5,807.4 386.5,809.2 385.1,810.7 M361.4,805.0 C359.4,806.2 359.4,808.0 361.4,809.5 C370.5,809.9 378.2,811.0 385.1,810.7 M361.4,809.7 C370.5,808.6 378.2,810.0 385.1,811.0 C386.5,812.0 386.5,813.8 385.1,815.3 M361.4,809.7 C359.4,810.9 359.4,812.6 361.4,814.1 C370.5,814.5 378.2,815.6 385.1,815.3" fill="none" stroke="#505050" stroke-width="0.9" />
<path d="M361.4,830.8 C370.5,829.7 378.2,831.1 385.1,832.1 C386.5,833.1 386.5,835.0 385.1,836.5 M361.4,830.8 C359.4,832.0 359.4,833.8 361.4,835.3 C370.5,835.7 378.2,836.8 385.1,836.5 M361.4,835.5 C370.5,834.4 378.2,835.8 385.1,836.8 C386.5,837.8 386.5,839.7 385.1,841.1 M361.4,835.5 C359.4,836.7 359.4,838.5 361.4,840.0 C370.5,840.4 378.2,841.5 385.1,841.1 M361.4,840.2 C370.5,839.1 378.2,840.5 385.1,841.5 C386.5,842.5 386.5,844.3 385.1,845.8 M361.4,840.2 C359.4,841.4 359.4,843.1 361.4,844.6 C370.5,845.0 378.2,846.1 385.1,845.8 M361.4,844.8 C370.5,843.7 378.2,845.1 385.1,846.1 C386.5,847.1 386.5,849.0 385.1,850.5 M361.4,844.8 C359.4,846.0 359.4,847.8 361.4,849.3 C370.5,849.7 378.2,850.8 385.1,850.5 M361.4,849.5 C370.5,848.4 378.2,849.8 385.1,850.8 C386.5,851.8 386.5,853.7 385.1,855.2 M361.4,849.5 C359.4,850.7 359.4,852.5 361.4,854.0 C370.5,854.4 378.2,855.5 385.1,855.2" fill="none" stroke="#505050" stroke-width="0.9" />
<path d="M351.2,853.8 H396.9 C404,870 408,885 407,897 C406,910 403,925 398.9,936 H349.2 C344,925 339,910 339,897 C339,885 344,870 351.2,853.8 Z" fill="none" stroke="#505050" stroke-width="1.0" />
<path d="M339.5,893 Q373,899 406.5,893 M339.5,899 Q373,905 406.5,899" fill="none" stroke="#505050" stroke-width="1.0" />
<path d="M372.5,858 V942 C372,950 366,955 361.4,960" fill="none" stroke="#505050" stroke-width="0.9" stroke-dasharray="22 3 3 3"/>
</svg></body></html>
